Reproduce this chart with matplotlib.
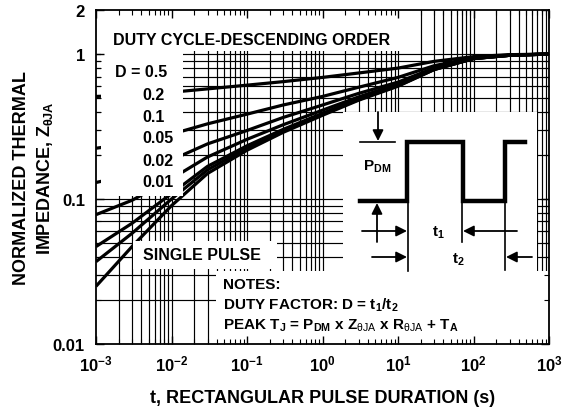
import numpy as np
import matplotlib
matplotlib.use('Agg')
import matplotlib.pyplot as plt
from matplotlib.patches import Rectangle
from matplotlib.lines import Line2D

plt.rcParams['font.family'] = 'Liberation Sans'
plt.rcParams['font.weight'] = 'bold'
plt.rcParams['mathtext.fontset'] = 'custom'
plt.rcParams['mathtext.rm'] = 'Liberation Sans:normal'
plt.rcParams['mathtext.bf'] = 'Liberation Sans:bold'
plt.rcParams['mathtext.it'] = 'Liberation Sans:italic'

# pulse duration (s) and normalized thermal impedance
t = [1e-3, 3e-3, 1e-2, 3e-2, 0.1, 0.3, 1, 3, 10, 30, 100, 300, 1000]
z_d50 = [0.51, 0.52, 0.545, 0.575, 0.61, 0.645, 0.69, 0.74, 0.80, 0.89, 0.96, 0.99, 1.0]
z_d20 = [0.224, 0.243, 0.28, 0.33, 0.385, 0.445, 0.51, 0.59, 0.69, 0.83, 0.945, 0.985, 1.0]
z_d10 = [0.13, 0.148, 0.186, 0.24, 0.297, 0.365, 0.445, 0.535, 0.64, 0.80, 0.935, 0.98, 1.0]
z_d05 = [0.078, 0.098, 0.138, 0.195, 0.258, 0.325, 0.41, 0.506, 0.62, 0.79, 0.932, 0.98, 1.0]
z_d02 = [0.047, 0.068, 0.109, 0.168, 0.233, 0.302, 0.39, 0.49, 0.608, 0.784, 0.93, 0.98, 1.0]
z_d01 = [0.037, 0.058, 0.10, 0.159, 0.225, 0.295, 0.384, 0.485, 0.604, 0.782, 0.93, 0.98, 1.0]
z_single = [0.025, 0.047, 0.090, 0.150, 0.217, 0.288, 0.378, 0.48, 0.60, 0.78, 0.93, 0.98, 1.0]
curves = [z_d50, z_d20, z_d10, z_d05, z_d02, z_d01, z_single]

duty_labels = ['D = 0.5', '0.2', '0.1', '0.05', '0.02', '0.01']
x_major = [1e-3, 1e-2, 1e-1, 1e0, 1e1, 1e2, 1e3]
x_ticklabels = [r'$\mathbf{10^{-3}}$', r'$\mathbf{10^{-2}}$', r'$\mathbf{10^{-1}}$',
                r'$\mathbf{10^{0}}$', r'$\mathbf{10^{1}}$', r'$\mathbf{10^{2}}$',
                r'$\mathbf{10^{3}}$']
y_major = [0.01, 0.1, 1, 2]
y_ticklabels = ['0.01', '0.1', '1', '2']

W, H = 566, 410


def fx(x):
    return x / W


def fy(y):
    return 1 - y / H


fig = plt.figure(figsize=(W / 100, H / 100), dpi=100)
ax = fig.add_axes([96 / W, 65 / H, 453 / W, 333.6 / H])
ax.set_xscale('log')
ax.set_yscale('log')
ax.set_xlim(1e-3, 1e3)
ax.set_ylim(0.01, 2)
ax.set_axisbelow(False)

x_minor = [k * 10.0 ** e for e in range(-3, 3) for k in range(2, 10)]
y_minor = [k * 10.0 ** e for e in (-2, -1) for k in range(2, 10)]

# grid drawn by hand so the white boxes can sit over it but under the ticks
for v in x_major[1:-1] + x_minor:
    ax.axvline(v, color='k', lw=0.85, zorder=0.5)
for v in [0.1, 1] + y_minor:
    ax.axhline(v, color='k', lw=0.85, zorder=0.5)

for z in curves:
    ax.plot(t, z, color='k', lw=2.3, zorder=1.5, solid_capstyle='butt')

ax.set_xticks(x_major)
ax.set_xticklabels(x_ticklabels, fontsize=12)
ax.set_xticks(x_minor, minor=True)
ax.set_xticklabels([], minor=True)
ax.set_yticks(y_major)
ax.set_yticklabels(y_ticklabels, fontsize=12)
ax.set_yticks(y_minor, minor=True)
ax.set_yticklabels([], minor=True)
ax.tick_params(which='both', direction='in', top=True, right=True)
ax.tick_params(which='major', length=6, width=1, pad=7)
ax.tick_params(axis='y', which='major', pad=8)
ax.tick_params(which='minor', length=3.5, width=0.8)
for s in ax.spines.values():
    s.set_linewidth(1.3)

# white boxes over the grid
boxes = [(96, 12, 418, 52), (101, 52, 183, 197), (133, 242, 277, 270),
         (216, 272, 549, 345), (343, 113, 537, 272)]
for x0, y0, x1, y1 in boxes:
    ax.add_patch(Rectangle((fx(x0), fy(y1)), (x1 - x0) / W, (y1 - y0) / H,
                           transform=fig.transFigure, facecolor='white',
                           edgecolor='none', zorder=2))

txt = dict(transform=fig.transFigure, va='baseline', zorder=3)
fig.text(fx(113), fy(45), 'DUTY CYCLE-DESCENDING ORDER', fontsize=11.5, **txt)
for i, lab in enumerate(duty_labels):
    xl = 115 if i == 0 else 142
    fig.text(fx(xl), fy(77.5 + 22 * i), lab, fontsize=11.5, **txt)
fig.text(fx(143), fy(260), 'SINGLE PULSE', fontsize=11.5, **txt)
fig.text(fx(223), fy(289), 'NOTES:', fontsize=11, **txt)
fig.text(fx(223), fy(310), r'DUTY FACTOR: D = t$_\mathbf{1}$/t$_\mathbf{2}$',
         fontsize=11, **txt)
fig.text(fx(223), fy(330),
         r'PEAK T$_\mathbf{J}$ = P$_\mathbf{DM}$ x Z$_{\mathrm{\theta JA}}$'
         r' x R$_{\mathrm{\theta JA}}$ + T$_\mathbf{A}$', fontsize=11, **txt)

# pulse diagram
def seg(pts, lw):
    xs = [fx(p[0]) for p in pts]
    ys = [fy(p[1]) for p in pts]
    ax.add_line(Line2D(xs, ys, transform=fig.transFigure, color='k', lw=lw,
                       zorder=3, clip_on=False, solid_joinstyle='miter'))


def arrow(tail, tip):
    ax.annotate('', xy=(fx(tip[0]), fy(tip[1])), xycoords='figure fraction',
                xytext=(fx(tail[0]), fy(tail[1])), textcoords='figure fraction',
                arrowprops=dict(arrowstyle='-|>', mutation_scale=16, lw=1.3,
                                color='k', shrinkA=0, shrinkB=0), zorder=3)


seg([(360, 202), (407, 202), (407, 143), (463, 143), (463, 202),
     (505, 202), (505, 143), (525, 143)], 3.2)
seg([(360, 143), (395, 143)], 1.2)
seg([(408, 202), (408, 272)], 1.2)
seg([(462, 202), (462, 243)], 1.2)
seg([(505, 202), (505, 271)], 1.2)
arrow((378, 113), (378, 142))
arrow((377, 243), (377, 204))
arrow((362, 232), (407, 232))
arrow((517, 232), (463, 232))
arrow((372, 258), (407, 258))
arrow((532, 258), (506, 258))
fig.text(fx(363), fy(171), r'P$_\mathbf{DM}$', fontsize=11, **txt)
fig.text(fx(432), fy(237), r't$_\mathbf{1}$', fontsize=11, **txt)
fig.text(fx(452), fy(264), r't$_\mathbf{2}$', fontsize=11, **txt)

# axis titles
fig.text(fx(322.5), fy(403), 't, RECTANGULAR PULSE DURATION (s)', fontsize=13,
         ha='center', va='baseline')
fig.text(fx(34), fy(178.5), 'NORMALIZED THERMAL\nIMPEDANCE, Z$_{\\mathbf{\\theta JA}}$',
         fontsize=13, rotation=90, ha='center', va='center',
         multialignment='center', linespacing=1.3)

fig.savefig('out.png', dpi=100)
